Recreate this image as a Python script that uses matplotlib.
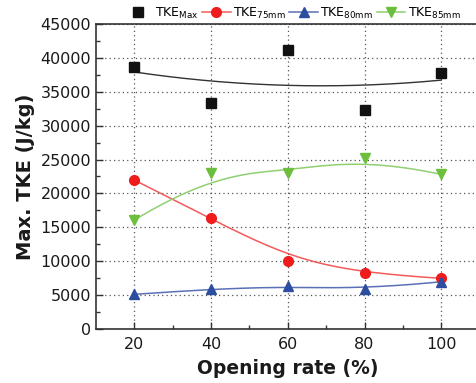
import numpy as np
import matplotlib
matplotlib.use("Agg")
import matplotlib.pyplot as plt

opening = [20, 40, 60, 80, 100]
tke_max = [38670, 33360, 41140, 32290, 37700]
tke_75 = [21960, 16310, 10010, 8200, 7460]
tke_80 = [5100, 5880, 6370, 5840, 6960]
tke_85 = [16060, 22950, 22950, 25250, 22800]


def bspline(xs, ys, k=3, n=200):
    P = np.column_stack([xs, ys]).astype(float)
    m = len(P)
    inner = np.linspace(0, 1, m - k + 1)[1:-1]
    t = np.concatenate([np.zeros(k + 1), inner, np.ones(k + 1)])
    u = np.linspace(0, 1, n)
    u[-1] = 1 - 1e-12

    def N(i, p, uu):
        if p == 0:
            return ((t[i] <= uu) & (uu < t[i + 1])).astype(float)
        a = np.zeros_like(uu)
        b = np.zeros_like(uu)
        if t[i + p] != t[i]:
            a = (uu - t[i]) / (t[i + p] - t[i]) * N(i, p - 1, uu)
        if t[i + p + 1] != t[i + 1]:
            b = (t[i + p + 1] - uu) / (t[i + p + 1] - t[i + 1]) * N(i + 1, p - 1, uu)
        return a + b

    B = np.column_stack([N(i, k, u) for i in range(m)])
    C = B @ P
    return C[:, 0], C[:, 1]


fig = plt.figure(figsize=(4.77, 3.83), dpi=100)
ax = fig.add_axes([96 / 477, 1 - 328.9 / 383, (479.6 - 96) / 477, (328.9 - 24) / 383])

# quadratic fit for max
coef = np.polyfit(opening, tke_max, 2)
xf = np.linspace(20, 100, 200)
ax.plot(xf, np.polyval(coef, xf), color='#333333', lw=1.0, zorder=3)

red_line, red_m = '#f25a5a', '#ee1c1c'
blue_line, blue_m = '#5a70b5', '#2d4ea0'
green_line, green_m = '#90d070', '#6cbf3c'

for ys, lc in [(tke_75, red_line), (tke_80, blue_line), (tke_85, green_line)]:
    bx, by = bspline(opening, ys)
    ax.plot(bx, by, color=lc, lw=1.1, zorder=3)

h0, = ax.plot(opening, tke_max, 's', color='#111111', ms=6.8, ls='none', zorder=5)
ax.plot(opening, tke_75, 'o', color=red_m, ms=7, ls='none', zorder=5)
ax.plot(opening, tke_80, '^', color=blue_m, ms=7.5, ls='none', zorder=5)
ax.plot(opening, tke_85, 'v', color=green_m, ms=7.5, ls='none', zorder=5)

h1, = ax.plot([], [], '-o', color=red_line, mfc=red_m, mec=red_m, ms=7, lw=1.1)
h2, = ax.plot([], [], '-^', color=blue_line, mfc=blue_m, mec=blue_m, ms=7.5, lw=1.1)
h3, = ax.plot([], [], '-v', color=green_line, mfc=green_m, mec=green_m, ms=7.5, lw=1.1)

labels = [r'TKE$_{\mathrm{Max}}$', r'TKE$_{\mathrm{75mm}}$', r'TKE$_{\mathrm{80mm}}$', r'TKE$_{\mathrm{85mm}}$']
fig.legend([h0, h1, h2, h3], labels, loc='center left', bbox_to_anchor=(124 / 477, 1 - 13 / 383),
           ncol=4, frameon=False, fontsize=9, handlelength=2.3, handletextpad=0.2,
           columnspacing=0.25, borderpad=0, borderaxespad=0)

ax.set_xlim(10, 110)
ax.set_ylim(0, 45000)
ax.set_xticks(opening)
ax.set_xticks([30, 50, 70, 90], minor=True)
ax.set_yticks(np.arange(0, 45001, 5000))
ax.set_yticks(np.arange(2500, 45000, 5000), minor=True)
ax.grid(True, which='major', ls=(0, (1, 2.5)), color='#555555', lw=0.9)
ax.set_axisbelow(True)

ax.tick_params(which='both', direction='in', colors='#333333', labelcolor='#1a1a1a', labelsize=11.5)
ax.tick_params(which='major', length=5, width=1)
ax.tick_params(which='minor', length=3, width=1)
ax.tick_params(axis='x', pad=6)
for s in ax.spines.values():
    s.set_color('#333333')
    s.set_linewidth(1.2)

ax.set_xlabel('Opening rate (%)', fontsize=13.5, fontweight='bold', color='#1a1a1a', labelpad=5)
ax.set_ylabel('Max. TKE (J/kg)', fontsize=14, fontweight='bold', color='#1a1a1a', labelpad=4)

fig.savefig('out.png', dpi=100)
